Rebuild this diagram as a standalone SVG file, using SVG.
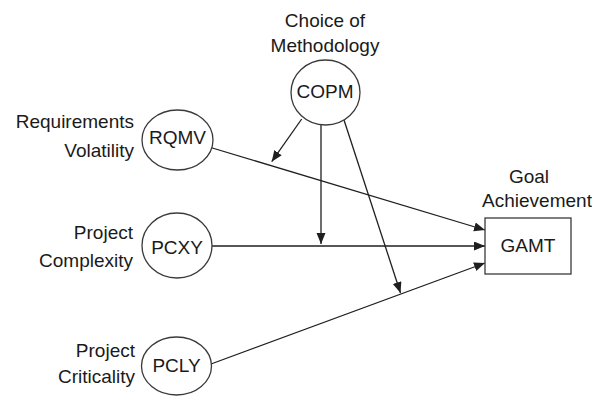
<svg xmlns="http://www.w3.org/2000/svg" width="592" height="396" viewBox="0 0 592 396">
<style>
text{font-family:"Liberation Sans",Arial,sans-serif;font-size:19px;fill:#1a1a1a}
.lbl{text-anchor:end}
.c{text-anchor:middle}
.node{fill:#fff;stroke:#3a3a3a;stroke-width:1.3}
.edge{stroke:#1f1f1f;stroke-width:1.3;fill:none;marker-end:url(#ah)}
</style>
<defs>
<marker id="ah" markerUnits="userSpaceOnUse" markerWidth="12" markerHeight="10" refX="11" refY="4.5" orient="auto">
<path d="M0,0 L11,4.5 L0,9 z" fill="#1f1f1f"/>
</marker>
</defs>
<g id="connectors">
<line class="edge" x1="301.7" y1="119" x2="271.7" y2="161.7"/>
<line class="edge" x1="321" y1="125" x2="321" y2="244"/>
<line class="edge" x1="344" y1="120" x2="400.5" y2="293"/>
<line class="edge" x1="209" y1="147" x2="485" y2="230"/>
<line class="edge" x1="212" y1="246" x2="485" y2="246"/>
<line class="edge" x1="211" y1="364" x2="485" y2="263"/>
</g>
<g id="COPM">
<text class="c" x="325" y="26.7">Choice of</text>
<text class="c" x="325" y="51.7">Methodology</text>
<ellipse class="node" cx="325.5" cy="92.5" rx="34.5" ry="32.5"/>
<text class="c" x="325" y="98.3">COPM</text>
</g>
<g id="RQMV">
<text class="lbl" x="134" y="128">Requirements</text>
<text class="lbl" x="134" y="156.7">Volatility</text>
<ellipse class="node" cx="177.5" cy="140" rx="35.5" ry="30"/>
<text class="c" x="177.5" y="144.3">RQMV</text>
</g>
<g id="PCXY">
<text class="lbl" x="133" y="239">Project</text>
<text class="lbl" x="133" y="266.7">Complexity</text>
<ellipse class="node" cx="177" cy="245.5" rx="35" ry="32.5"/>
<text class="c" x="177" y="254.3">PCXY</text>
</g>
<g id="PCLY">
<text class="lbl" x="135" y="356.7">Project</text>
<text class="lbl" x="135" y="383.3">Criticality</text>
<ellipse class="node" cx="176.5" cy="366" rx="35" ry="29"/>
<text class="c" x="176.5" y="371.7">PCLY</text>
</g>
<g id="GAMT">
<text class="c" x="529" y="183">Goal</text>
<text class="c" x="537" y="206.7">Achievement</text>
<rect class="node" x="485" y="218" width="86" height="56"/>
<text class="c" x="528" y="251.7">GAMT</text>
</g>
</svg>
